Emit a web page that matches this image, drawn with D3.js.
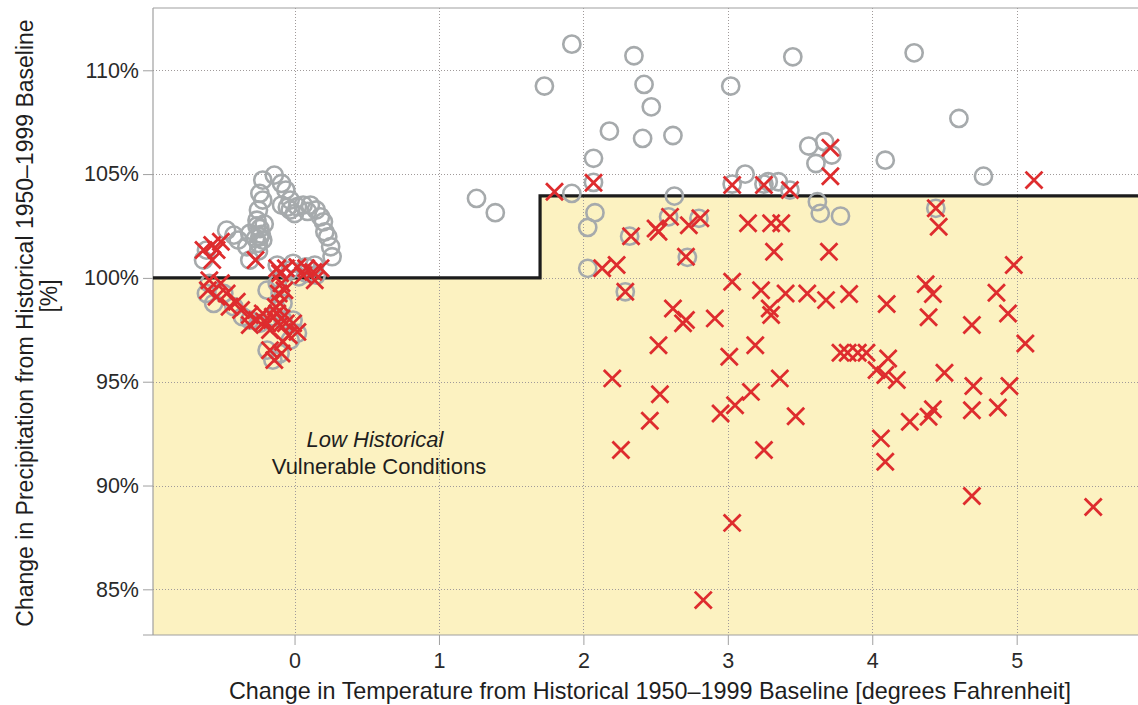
<!DOCTYPE html>
<html>
<head>
<meta charset="utf-8">
<script src="https://cdn.jsdelivr.net/npm/d3@7"></script>
<style>
  body { margin: 0; background: #ffffff; }
  svg { display: block; font-family: "Liberation Sans", Arial, sans-serif; }
</style>
</head>
<body>
<svg id="chart" width="1138" height="705"></svg>
<script>
// Axis ticks
const xTicks = [0, 1, 2, 3, 4, 5];
const yTicks = [85, 90, 95, 100, 105, 110];

// Vulnerability threshold (step): precipitation level below / above the temperature break
const thresholdBreakTemp = 1.70;
const thresholdLowPrecip = 100;
const thresholdHighPrecip = 103.95;

// Scenarios shown as gray circles [temperature change °F, precipitation %]
const grayCircles = [
  [1.92,111.26],[2.35,110.70],[3.45,110.65],[4.29,110.84],
  [1.73,109.24],[2.42,109.32],[3.02,109.24],[2.47,108.24],
  [4.60,107.68],[2.18,107.07],[2.41,106.72],[2.62,106.86],
  [3.56,106.35],[3.67,106.56],[3.72,105.92],[3.61,105.51],[4.09,105.67],
  [2.07,105.76],[3.12,105.00],[4.77,104.90],
  [1.26,103.83],[1.39,103.14],[1.92,104.07],[2.07,104.60],[2.63,103.94],
  [2.08,103.14],[2.03,102.43],[2.03,100.46],
  [2.32,102.01],[2.59,102.94],[2.80,102.87],[2.72,100.99],[2.29,99.33],
  [3.03,104.52],[3.25,104.52],[3.28,104.63],[3.35,104.63],[3.43,104.23],
  [3.62,103.67],[3.64,103.11],[3.78,102.98],[4.44,103.35],
  [-0.14,104.95],[-0.09,104.55],[-0.22,104.71],[-0.06,104.23],[-0.24,104.07],[-0.22,103.75],[-0.03,103.75],
  [-0.09,103.51],[-0.03,103.27],[0.02,103.43],[0.06,103.51],[0.11,103.51],[0.15,103.27],
  [0.00,103.10],[0.09,103.20],[-0.05,103.40],
  [-0.25,103.27],[-0.26,102.78],[0.18,102.94],[0.20,102.70],
  [-0.24,102.38],[-0.24,101.98],[-0.25,101.66],[-0.22,101.82],[-0.31,102.14],
  [-0.26,102.50],[-0.23,102.10],[-0.27,101.90],[-0.21,102.60],[-0.25,101.30],
  [0.21,102.22],[0.23,101.98],[0.25,101.50],[0.26,101.02],
  [-0.47,102.30],[-0.42,102.06],[-0.39,101.82],[-0.33,101.50],[-0.31,100.86],
  [-0.61,101.34],[-0.63,100.86],
  [-0.12,100.62],[-0.01,100.70],[0.08,100.53],[0.14,100.62],
  [-0.59,99.74],[-0.61,99.25],[-0.56,98.77],
  [-0.49,99.25],[-0.42,98.61],[-0.36,98.13],[-0.31,97.97],
  [-0.24,97.81],[-0.15,98.13],[-0.08,97.97],
  [-0.12,99.74],[-0.10,99.25],[-0.08,98.77],[-0.12,98.45],
  [-0.01,97.97],[0.02,97.33],[-0.03,97.00],
  [-0.19,96.52],[-0.15,96.04],[-0.10,96.36],
  [-0.03,100.38],[0.03,100.05],[0.08,100.22],[0.15,100.13],[-0.19,99.41]
];

// Scenarios shown as red crosses [temperature change °F, precipitation %]
const redCrosses = [
  [1.80,104.15],[2.07,104.58],[3.03,104.47],[3.25,104.47],[3.43,104.23],[3.71,106.27],[3.71,104.90],[5.12,104.71],
  [2.33,102.01],[2.50,102.38],[2.52,102.22],[2.60,102.94],[2.73,102.54],[2.81,102.87],[2.71,101.02],
  [2.13,100.46],[2.23,100.62],[2.29,99.33],[3.03,99.81],
  [3.14,102.63],[3.30,102.63],[3.37,102.63],[3.32,101.26],[3.70,101.26],
  [3.23,99.41],[3.40,99.25],[3.55,99.25],[3.68,98.93],
  [3.29,98.53],[3.30,98.21],[2.62,98.53],[2.69,97.81],[2.71,97.97],[2.91,98.05],
  [2.52,96.76],[3.19,96.76],[3.01,96.20],
  [2.20,95.16],[2.53,94.40],[2.95,93.47],[3.05,93.87],[3.16,94.51],[3.36,95.16],
  [2.46,93.12],[3.47,93.34],[2.26,91.71],[3.25,91.71],[3.03,88.20],[2.83,84.48],
  [4.44,103.35],[4.46,102.46],[4.98,100.62],
  [3.84,99.22],[4.10,98.74],[4.37,99.70],[4.42,99.22],[4.39,98.10],[4.86,99.28],[4.94,98.29],[4.69,97.73],[5.06,96.84],
  [3.78,96.40],[3.83,96.40],[3.90,96.40],[3.96,96.40],[4.11,96.12],[4.03,95.56],[4.09,95.32],[4.17,95.08],
  [4.50,95.43],[4.70,94.79],[4.95,94.79],[4.69,93.63],[4.87,93.76],[4.42,93.67],[4.39,93.31],[4.26,93.07],
  [4.06,92.27],[4.09,91.14],[4.69,89.49],[5.53,88.97],
  [-0.63,101.34],[-0.57,101.58],[-0.54,101.34],[-0.51,101.74],[-0.57,100.86],[-0.27,100.86],
  [-0.59,99.89],[-0.60,99.41],[-0.54,99.09],[-0.51,99.74],
  [-0.47,99.25],[-0.40,98.85],[-0.45,98.61],
  [-0.37,98.45],[-0.31,98.21],[-0.26,97.97],[-0.19,97.81],[-0.31,97.73],
  [-0.17,97.49],[-0.10,97.73],[-0.06,97.81],
  [-0.10,100.22],[-0.09,99.74],[-0.11,99.25],[-0.10,98.77],[-0.12,98.29],[-0.09,98.05],
  [-0.12,100.46],[-0.06,100.46],[0.02,100.53],[0.08,100.46],[0.13,100.29],[0.18,100.46],[0.06,100.13],[0.14,99.89],
  [-0.01,97.81],[0.02,97.40],[-0.04,97.24],[-0.08,96.92],
  [-0.17,96.52],[-0.14,96.04],[-0.09,96.36],
  [-0.21,97.90],[-0.15,98.13],[-0.22,98.29],[-0.13,98.60],[-0.07,99.40]
];

const xDomain = [-0.98, 5.84];
const yDomain = [82.8, 113.0];

const plot = { left: 153, right: 1138, top: 8, bottom: 635 };
const svg = d3.select("#chart");

const x = d3.scaleLinear().domain(xDomain).range([plot.left, plot.right]);
const y = d3.scaleLinear().domain(yDomain).range([plot.bottom, plot.top]);

// Shaded vulnerable region under the threshold step
const region = [
  [xDomain[0], thresholdLowPrecip],
  [thresholdBreakTemp, thresholdLowPrecip],
  [thresholdBreakTemp, thresholdHighPrecip],
  [xDomain[1], thresholdHighPrecip],
  [xDomain[1], yDomain[0]],
  [xDomain[0], yDomain[0]]
];
svg.append("path")
  .attr("d", d3.line().x(d => x(d[0])).y(d => y(d[1]))(region) + "Z")
  .attr("fill", "#fcf2c1");

// Dotted grid
const grid = svg.append("g").attr("stroke", "#a09a9a").attr("stroke-width", 1)
  .attr("stroke-dasharray", "1,2");
grid.selectAll("line.v").data(xTicks).join("line")
  .attr("x1", d => Math.round(x(d)) + 0.5).attr("x2", d => Math.round(x(d)) + 0.5)
  .attr("y1", plot.top).attr("y2", plot.bottom);
grid.selectAll("line.h").data(yTicks).join("line")
  .attr("y1", d => Math.round(y(d)) + 0.5).attr("y2", d => Math.round(y(d)) + 0.5)
  .attr("x1", plot.left).attr("x2", plot.right);

// Plot frame
const frame = svg.append("g").attr("stroke", "#a0a0a0").attr("stroke-width", 1.2).attr("fill", "none");
frame.append("line").attr("x1", plot.left).attr("x2", plot.left).attr("y1", plot.top).attr("y2", plot.bottom);
frame.append("line").attr("x1", plot.left).attr("x2", plot.right).attr("y1", plot.top).attr("y2", plot.top);
frame.append("line").attr("x1", plot.left - 10).attr("x2", plot.right).attr("y1", plot.bottom).attr("y2", plot.bottom);

// Axes
const xAxis = svg.append("g").attr("transform", `translate(0,${plot.bottom})`)
  .call(d3.axisBottom(x).tickValues(xTicks).tickSize(10).tickPadding(8).tickFormat(d3.format("d")));
const yAxis = svg.append("g").attr("transform", `translate(${plot.left},0)`)
  .call(d3.axisLeft(y).tickValues(yTicks).tickSize(10).tickPadding(4).tickFormat(d => d + "%"));
[xAxis, yAxis].forEach(a => {
  a.select(".domain").remove();
  a.selectAll(".tick line").attr("stroke", "#a0a0a0");
  a.selectAll(".tick text").attr("fill", "#2a2a2a").style("font-size", "21.5px")
    .style("font-family", '"Liberation Sans", Arial, sans-serif');
});

// Threshold step line
const step = [
  [xDomain[0], thresholdLowPrecip],
  [thresholdBreakTemp, thresholdLowPrecip],
  [thresholdBreakTemp, thresholdHighPrecip],
  [xDomain[1], thresholdHighPrecip]
];
svg.append("path")
  .attr("d", d3.line().x(d => x(d[0])).y(d => y(d[1]))(step))
  .attr("fill", "none").attr("stroke", "#1c1c1c").attr("stroke-width", 3.2);

// Scenario markers
svg.append("g").selectAll("circle").data(grayCircles).join("circle")
  .attr("cx", d => x(d[0])).attr("cy", d => y(d[1])).attr("r", 8.6)
  .attr("fill", "none").attr("stroke", "#a6aaac").attr("stroke-width", 2.6);

const cross = d3.symbol(d3.symbolTimes, 190);
svg.append("g").selectAll("path").data(redCrosses).join("path")
  .attr("transform", d => `translate(${x(d[0])},${y(d[1])})`)
  .attr("d", cross)
  .attr("fill", "none").attr("stroke", "#de2c2e").attr("stroke-width", 2.8);

// Region annotation
const note = svg.append("g").attr("text-anchor", "middle").attr("fill", "#1e1e1e").style("font-size", "22px");
note.append("text").attr("x", 375).attr("y", 447).style("font-style", "italic").text("Low Historical");
note.append("text").attr("x", 379).attr("y", 474).text("Vulnerable Conditions");

// Axis titles
svg.append("text").attr("x", 650).attr("y", 699).attr("text-anchor", "middle")
  .attr("fill", "#1e1e1e").style("font-size", "23.4px")
  .text("Change in Temperature from Historical 1950\u20131999 Baseline [degrees Fahrenheit]");

const yTitle = svg.append("g").attr("fill", "#1e1e1e").style("font-size", "23px").attr("text-anchor", "middle");
yTitle.append("text").attr("transform", "translate(33,323) rotate(-90)")
  .text("Change in Precipitation from Historical 1950\u20131999 Baseline");
yTitle.append("text").attr("transform", "translate(57,296) rotate(-90)").text("[%]");
</script>
</body>
</html>
